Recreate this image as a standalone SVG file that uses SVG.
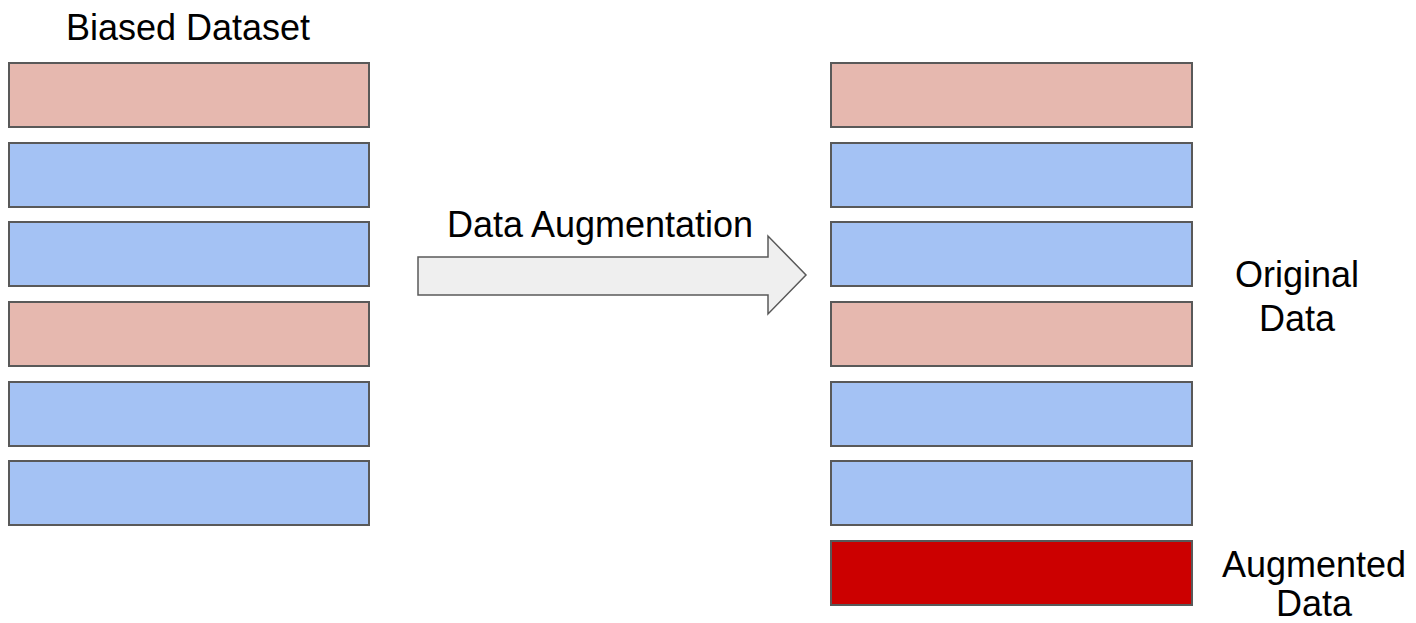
<svg xmlns="http://www.w3.org/2000/svg" width="1416" height="623" viewBox="0 0 1416 623">
<style>
.r{stroke:#595959;stroke-width:2}
.p{fill:#e6b8af}
.b{fill:#a4c2f4}
.d{fill:#cc0000}
.t{font-family:"Liberation Sans",Arial,sans-serif;font-size:36px;fill:#000;text-anchor:middle}
</style>
<rect width="1416" height="623" fill="#fff"/>
<g id="biased">
<text class="t" x="188" y="40">Biased Dataset</text>
<rect class="r p" x="9" y="63" width="360" height="64"/>
<rect class="r b" x="9" y="143" width="360" height="64"/>
<rect class="r b" x="9" y="222" width="360" height="64"/>
<rect class="r p" x="9" y="302" width="360" height="64"/>
<rect class="r b" x="9" y="382" width="360" height="64"/>
<rect class="r b" x="9" y="461" width="360" height="64"/>
</g>
<g id="connectors">
<polygon points="418,257 768,257 768,236 806,275 768,314 768,295 418,295" fill="#efefef" stroke="#595959" stroke-width="1.5"/>
<text class="t" x="600" y="237">Data Augmentation</text>
</g>
<g id="result">
<rect class="r p" x="831" y="63" width="361" height="64"/>
<rect class="r b" x="831" y="143" width="361" height="64"/>
<rect class="r b" x="831" y="222" width="361" height="64"/>
<rect class="r p" x="831" y="302" width="361" height="64"/>
<rect class="r b" x="831" y="382" width="361" height="64"/>
<rect class="r b" x="831" y="461" width="361" height="64"/>
<rect class="r d" x="831" y="541" width="361" height="64"/>
</g>
<g id="labels">
<text class="t" x="1297" y="287">Original</text>
<text class="t" x="1297" y="331">Data</text>
<text class="t" x="1314" y="577">Augmented</text>
<text class="t" x="1314" y="616">Data</text>
</g>
</svg>
